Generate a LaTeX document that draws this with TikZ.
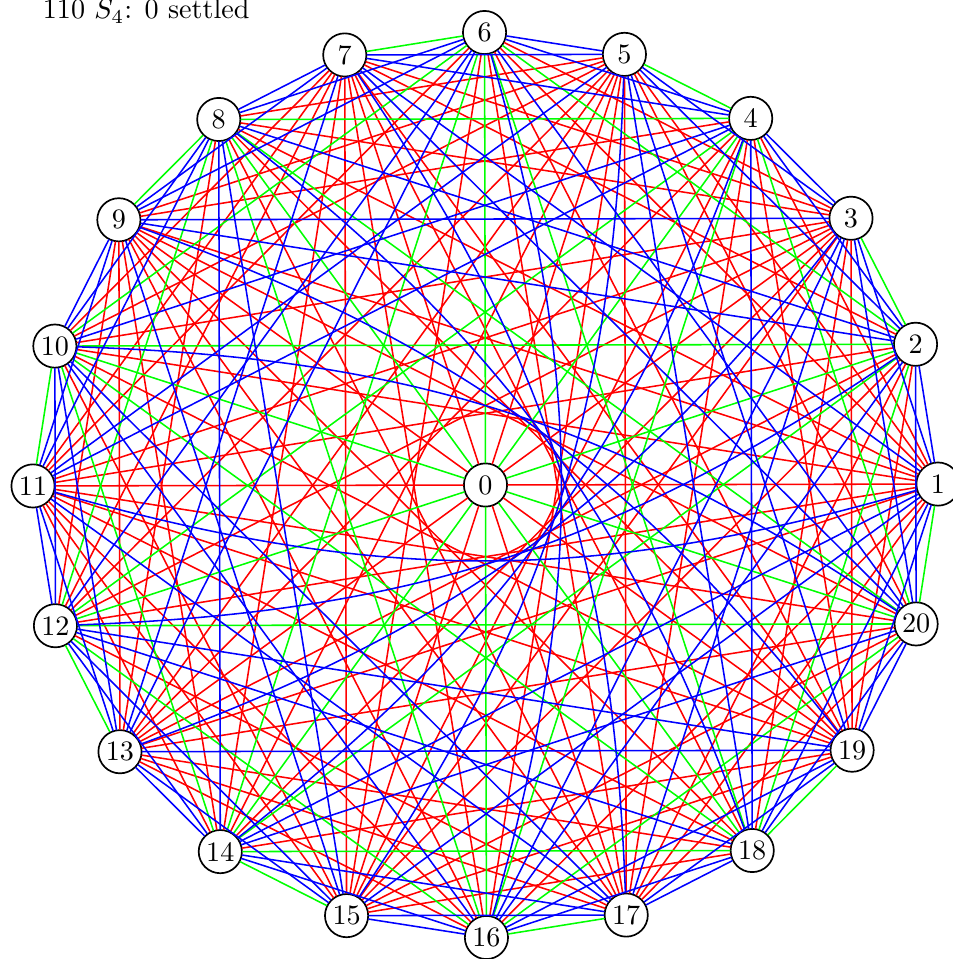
\documentclass[tikz,border=0pt]{standalone}
% colour code of chord i -- i+d, d = 1..9, by parity of i (1 red, 2 green, 3 blue)
\def\oddcol{{3,3,1,1,1,3,1,1,1}}
\def\evencol{{2,3,3,2,1,3,3,2,1}}
\newcommand\drawchords[1]{%
  \foreach \i in {1,...,19}{%
    \pgfmathtruncatemacro\jstart{\i+1}%
    \foreach \j in {\jstart,...,20}{%
      \pgfmathtruncatemacro\d{\j-\i}%
      \ifnum\d<10 \pgfmathtruncatemacro\p{mod(\i,2)}\pgfmathtruncatemacro\dd{\d}%
      \else \pgfmathtruncatemacro\p{mod(\j,2)}\pgfmathtruncatemacro\dd{20-\d}\fi
      \ifnum\d=10 \def\cl{3}%
      \else
        \ifnum\p=1 \pgfmathtruncatemacro\cl{\oddcol[\dd-1]}%
        \else \pgfmathtruncatemacro\cl{\evencol[\dd-1]}\fi
      \fi
      \edef\col{\ifcase\cl\or red\or green\or blue\fi}%
      \ifnum\cl=#1
        \ifnum\d=10 \draw[link, draw=\col] (v\i) to[bend left=16] (v\j);%
        \else \draw[link, draw=\col] (v\i) -- (v\j);\fi
      \fi
    }%
  }%
}
\begin{document}
\begin{tikzpicture}[
  x=0.0125cm, y=0.0125cm,
  line cap=round, line join=round,
  vertex/.style={circle, draw=black, fill=white, line width=0.6pt, minimum size=0.54cm, inner sep=0pt},
  link/.style={line width=0.55pt},
]
\useasboundingbox (-485.5,-474) rectangle (467.5,485);
\node[anchor=base west] (title) at (-452.5,466) {110 $S_4$: 0 settled};
\node[vertex] (v0) at (0,0) {0};
\foreach \k in {1,...,20}
  \node[vertex] (v\k) at ({(\k-1)*18+0.12}:452.5) {\k};
% red
\foreach \k in {1,3,...,19}
  \draw[link, red] (v0) -- (v\k);
\drawchords{1}
% green
\foreach \k in {2,4,...,20}
  \draw[link, green] (v0) -- (v\k);
\drawchords{2}
% blue
\drawchords{3}
\end{tikzpicture}
\end{document}
